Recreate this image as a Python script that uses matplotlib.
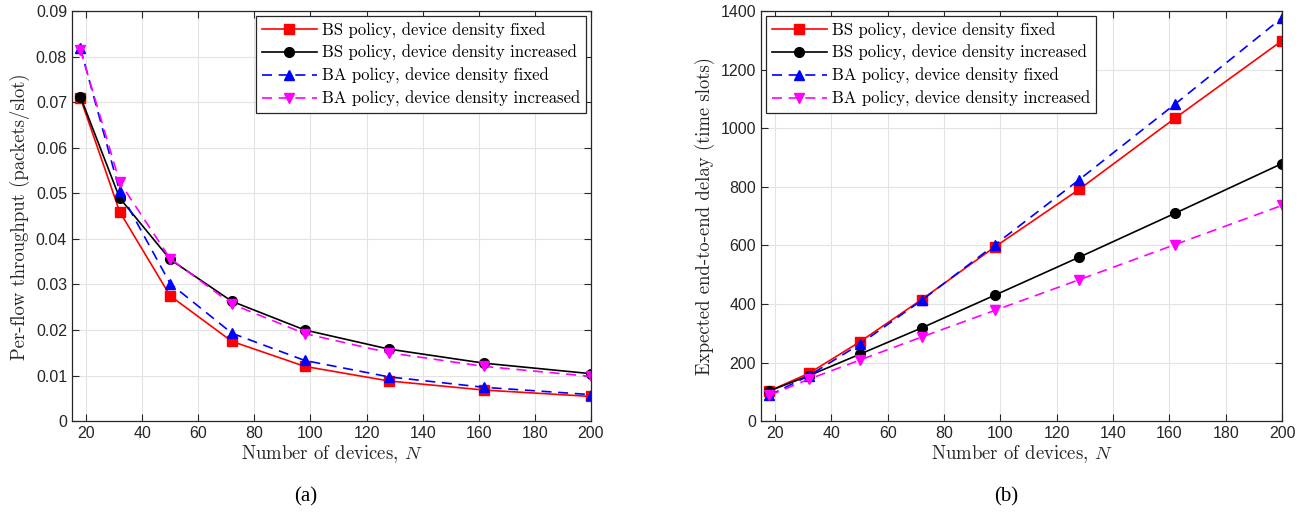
import numpy as np
import matplotlib
matplotlib.use("Agg")
import matplotlib.pyplot as plt

# number of devices
N = [18, 32, 50, 72, 98, 128, 162, 200]

# (a) per-flow throughput
thr_bs_fixed = [0.0710, 0.0460, 0.0275, 0.0175, 0.0120, 0.0088, 0.0068, 0.0054]
thr_bs_incr = [0.0713, 0.0490, 0.0355, 0.0263, 0.0200, 0.0158, 0.0127, 0.0104]
thr_ba_fixed = [0.0820, 0.0505, 0.0302, 0.0193, 0.0133, 0.0097, 0.0074, 0.0058]
thr_ba_incr = [0.0816, 0.0525, 0.0357, 0.0257, 0.0192, 0.0150, 0.0120, 0.0098]

# (b) expected end-to-end delay
dly_bs_fixed = [103, 163, 270, 415, 595, 792, 1035, 1300]
dly_bs_incr = [103, 155, 228, 318, 430, 560, 710, 880]
dly_ba_fixed = [88, 155, 262, 412, 602, 825, 1083, 1378]
dly_ba_incr = [88, 143, 208, 287, 378, 483, 603, 737]

labels = ["BS policy, device density fixed",
          "BS policy, device density increased",
          "BA policy, device density fixed",
          "BA policy, device density increased"]

xticks = [20, 40, 60, 80, 100, 120, 140, 160, 180, 200]
yticks_a = [0, 0.01, 0.02, 0.03, 0.04, 0.05, 0.06, 0.07, 0.08, 0.09]
yticklabels_a = ["0", "0.01", "0.02", "0.03", "0.04", "0.05", "0.06", "0.07", "0.08", "0.09"]
yticks_b = [0, 200, 400, 600, 800, 1000, 1200, 1400]

plt.rcParams['mathtext.fontset'] = 'cm'
serif = 'cmr10'
tickfont = 'Liberation Sans'

fig = plt.figure(figsize=(13.13, 5.12), dpi=100)
ax1 = fig.add_axes([0.0548, 0.1777, 0.3953, 0.80])
ax2 = fig.add_axes([0.5796, 0.1777, 0.3968, 0.80])

styles = [
    dict(color='#ff0000', marker='s', linestyle='-'),
    dict(color='#000000', marker='o', linestyle='-'),
    dict(color='#0000ff', marker='^', linestyle=(0, (6, 4))),
    dict(color='#ff00ff', marker='v', linestyle=(0, (6, 4))),
]


def draw(ax, series, yticks, yticklabels, ylim, ylabel, legend_loc):
    for ys, st, lab in zip(series, styles, labels):
        ax.plot(N, ys, color=st['color'], marker=st['marker'], linestyle=st['linestyle'],
                linewidth=1.2, markersize=7, label=lab)
    ax.set_xlim(15, 200)
    ax.set_ylim(*ylim)
    ax.set_xticks(xticks)
    ax.set_yticks(yticks)
    ax.set_yticklabels(yticklabels)
    ax.grid(True, color='#e3e3e3', linewidth=0.8)
    ax.set_axisbelow(True)
    ax.tick_params(direction='in', top=True, right=True, length=5, width=0.8,
                   colors='#262626', labelsize=11.5)
    for t in ax.get_xticklabels() + ax.get_yticklabels():
        t.set_fontfamily(tickfont)
    for sp in ax.spines.values():
        sp.set_color('#262626')
        sp.set_linewidth(0.9)
    ax.set_xlabel("Number of devices, $N$", fontfamily=serif, fontsize=13.5,
                  color='#262626', labelpad=2)
    ax.set_ylabel(ylabel, fontfamily=serif, fontsize=13.5, color='#262626')
    leg = ax.legend(loc=legend_loc, prop={'family': serif, 'size': 12},
                    fancybox=False, edgecolor='#262626', framealpha=1,
                    handlelength=3.3, handletextpad=0.3, borderpad=0.35,
                    labelspacing=0.4, borderaxespad=0.3)
    leg.get_frame().set_linewidth(0.9)


draw(ax1, [thr_bs_fixed, thr_bs_incr, thr_ba_fixed, thr_ba_incr],
     yticks_a, yticklabels_a, (0, 0.09),
     "Per-flow throughput (packets/slot)", 'upper right')
draw(ax2, [dly_bs_fixed, dly_bs_incr, dly_ba_fixed, dly_ba_incr],
     yticks_b, [str(v) for v in yticks_b], (0, 1400),
     "Expected end-to-end delay (time slots)", 'upper left')

fig.text(0.233, 0.03, "(a)", fontfamily='Liberation Serif', fontsize=15, ha='center', va='center')
fig.text(0.766, 0.03, "(b)", fontfamily='Liberation Serif', fontsize=15, ha='center', va='center')

fig.savefig("out.png", dpi=100)
